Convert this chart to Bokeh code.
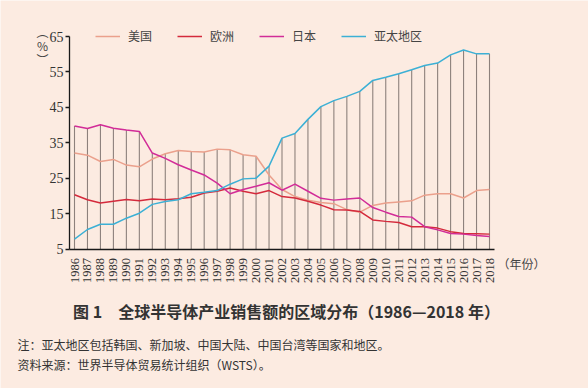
import numpy as np
from bokeh.plotting import figure
from bokeh.models import Range1d, FixedTicker, Label, Legend, LegendItem
from bokeh.embed import file_html
from bokeh.resources import INLINE

# ---------------- data ----------------
years = list(range(1986, 2019))
year_labels = [str(y) for y in years]
usa = [32.1, 31.5, 29.7, 30.3, 28.7, 28.2, 30.4, 31.9, 32.8, 32.5, 32.4, 33.2, 33.0, 31.6, 31.2,
       25.9, 21.8, 19.8, 18.8, 18.1, 17.8, 16.1, 15.4, 17.3, 18.0, 18.3, 18.6, 20.2, 20.6, 20.6,
       19.4, 21.5, 21.8]
europe = [20.3, 18.9, 18.0, 18.5, 19.0, 18.6, 19.1, 18.9, 19.2, 19.6, 20.8, 21.3, 22.2, 21.3, 20.6,
          21.5, 19.8, 19.4, 18.5, 17.4, 16.1, 16.0, 15.6, 13.2, 12.8, 12.5, 11.3, 11.3, 10.9, 9.9,
          9.4, 9.3, 9.2]
japan = [39.7, 39.0, 40.1, 39.1, 38.6, 38.2, 32.1, 30.6, 28.8, 27.3, 25.9, 23.6, 20.6, 21.8, 22.7,
         23.7, 21.6, 23.3, 21.3, 19.3, 18.8, 19.1, 19.4, 16.7, 15.4, 14.2, 14.0, 11.3, 10.4, 9.4,
         9.2, 8.8, 8.5]
asia = [7.8, 10.5, 12.0, 12.0, 13.7, 15.1, 17.6, 18.4, 18.9, 20.6, 21.0, 21.5, 23.3, 24.8, 25.0,
        28.4, 36.3, 37.6, 41.6, 45.2, 46.9, 48.1, 49.5, 52.6, 53.5, 54.5, 55.6, 56.8, 57.5, 59.8,
        61.2, 60.1, 60.1]
series_names = ["美国", "欧洲", "日本", "亚太地区"]
y_ticks = [5, 15, 25, 35, 45, 55, 65]

# ---------------- style ----------------
BG = "#fcebe1"
colors = ["#eba08c", "#d42a3c", "#d22c98", "#3cb0d5"]
SERIF = "serif"
CJK = "Noto Sans CJK SC"

W, H = 588, 388
PX_FIRST, PX_LAST = 74.0, 489.0      # canvas x of first / last year
PY_TOP, PY_BOT = 36.0, 248.5         # canvas y of 65 / 5
sx = (PX_LAST - PX_FIRST) / (years[-1] - years[0])
sy = (PY_BOT - PY_TOP) / (y_ticks[-1] - y_ticks[0])
x0 = years[0] - PX_FIRST / sx
x1 = years[0] + (W - PX_FIRST) / sx
y1 = y_ticks[-1] + PY_TOP / sy
y0 = y_ticks[0] - (H - PY_BOT) / sy

def px_x(px):
    return x0 + px / sx
def px_y(py):
    return y1 - py / sy

p = figure(width=W, height=H, output_backend="svg", toolbar_location=None,
           x_range=Range1d(x0, x1), y_range=Range1d(y0, y1),
           min_border=0, min_border_left=0, min_border_right=0,
           min_border_top=0, min_border_bottom=0)
p.background_fill_color = BG
p.border_fill_color = BG
p.outline_line_color = None
p.xgrid.visible = False
p.ygrid.visible = False

ax_left = px_x(69)
ax_right = px_x(494)

# vertical drop lines up to the highest series
tops = np.max(np.array([usa, europe, japan, asia]), axis=0)
p.segment(x0=years, y0=[y_ticks[0]] * len(years), x1=years, y1=tops,
          line_color="#8d817c", line_width=1.1)

renderers = []
for vals, c in zip([usa, europe, japan, asia], colors):
    r = p.line(years, vals, line_color=c, line_width=1.5)
    renderers.append(r)

# axes (placed inside the full-canvas frame)
ya = p.yaxis[0]
ya.fixed_location = ax_left
ya.bounds = (y_ticks[0], y_ticks[-1])
ya.ticker = FixedTicker(ticks=y_ticks)
ya.minor_tick_line_color = None
ya.major_tick_in = 0
ya.major_tick_out = 4
ya.axis_line_width = 1.3
ya.major_tick_line_width = 1.3
ya.axis_line_color = "#1a1a1a"
ya.major_tick_line_color = "#1a1a1a"
ya.major_label_text_font = SERIF
ya.major_label_text_font_size = "14px"
ya.major_label_text_color = "#333333"
ya.major_label_standoff = 2

xa = p.xaxis[0]
xa.fixed_location = y_ticks[0]
xa.bounds = (ax_left, ax_right)
xa.ticker = FixedTicker(ticks=years)
xa.major_label_overrides = {y: s for y, s in zip(years, year_labels)}
xa.minor_tick_line_color = None
xa.major_tick_line_color = None
xa.axis_line_width = 1.3
xa.axis_line_color = "#1a1a1a"
xa.major_label_orientation = np.pi / 2
xa.major_label_text_font = SERIF
xa.major_label_text_font_size = "12.5px"
xa.major_label_text_color = "#333333"
xa.major_label_standoff = 3

# legend
legend = Legend(items=[LegendItem(label=n, renderers=[r]) for n, r in zip(series_names, renderers)],
                orientation="horizontal", location=(95, H - 44),
                padding=0, margin=0, spacing=25, glyph_width=25, glyph_height=14,
                label_height=14, label_standoff=8,
                label_text_font=CJK, label_text_font_size="12px", label_text_color="#444444",
                background_fill_alpha=0, border_line_color=None)
p.add_layout(legend, "center")

# unit labels
p.add_layout(Label(x=px_x(42), y=px_y(45), text="︵\n%\n︶", text_font=CJK,
                   text_font_size="12px", text_color="#444444",
                   text_align="center", text_baseline="middle", text_line_height=0.85))
p.add_layout(Label(x=px_x(497), y=px_y(263), text="（年份）", text_font=CJK,
                   text_font_size="12px", text_color="#444444",
                   text_align="left", text_baseline="middle"))

# title and notes
p.add_layout(Label(x=px_x(286), y=px_y(310),
                   text="图 1　全球半导体产业销售额的区域分布（1986—2018 年）",
                   text_font=CJK, text_font_size="16px", text_font_style="bold",
                   text_color="#333333", text_align="center", text_baseline="middle"))
p.add_layout(Label(x=px_x(17), y=px_y(344),
                   text="注：亚太地区包括韩国、新加坡、中国大陆、中国台湾等国家和地区。",
                   text_font=CJK, text_font_size="12px", text_color="#333333",
                   text_align="left", text_baseline="middle"))
p.add_layout(Label(x=px_x(17), y=px_y(364),
                   text="资料来源：世界半导体贸易统计组织（WSTS）。",
                   text_font=CJK, text_font_size="12px", text_color="#333333",
                   text_align="left", text_baseline="middle"))

html = file_html(p, INLINE)
html = html.replace("<body>", '<body style="background:%s">' % BG, 1)
open("out.html", "w").write(html)
